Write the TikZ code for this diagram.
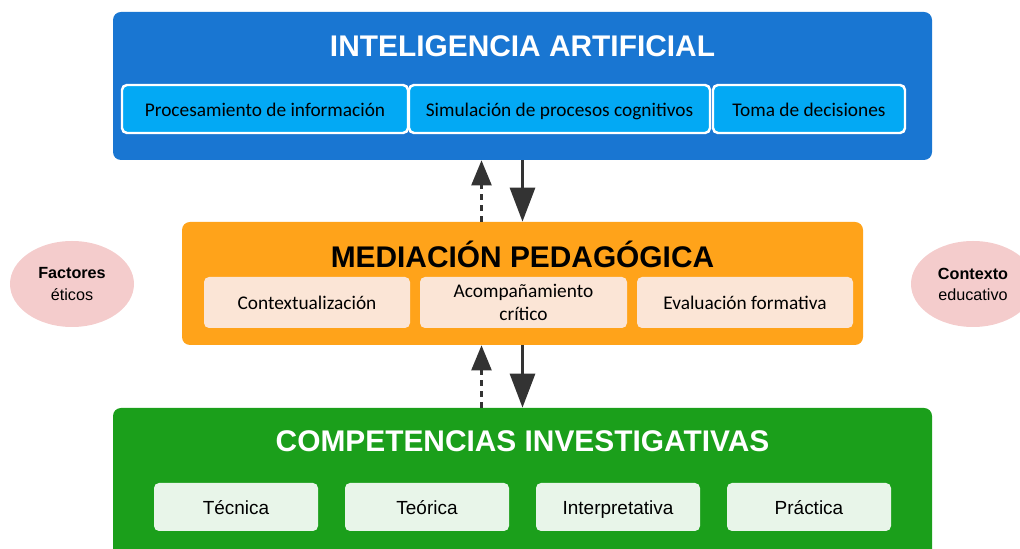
\documentclass[tikz,border=0pt]{standalone}
\usepackage{fontspec}
\setmainfont{Carlito}
\newfontfamily\arialfont{Liberation Sans}
\usetikzlibrary{arrows.meta,shapes.geometric,positioning}
\definecolor{iablue}{HTML}{1976D2}
\definecolor{iacyan}{HTML}{03A9F4}
\definecolor{medorange}{HTML}{FFA31A}
\definecolor{medpeach}{HTML}{FBE5D6}
\definecolor{compgreen}{HTML}{1B9F1B}
\definecolor{complight}{HTML}{E8F5E9}
\definecolor{factpink}{HTML}{F4CCCC}
\definecolor{arrowgrey}{HTML}{333333}
\tikzset{
    bigbox/.style={rounded corners=0.16cm, inner sep=0pt, minimum width=16.38cm},
    boxtitle/.style={font=\arialfont\bfseries\fontsize{17}{20}\selectfont},
    oneline/.style={text height=2.2ex, text depth=0.45ex},
    iabox/.style={oneline, fill=iacyan, draw=white, line width=1.4pt, rounded corners=0.1cm,
        minimum height=0.96cm, inner sep=0pt, font=\fontsize{11}{13}\selectfont},
    medbox/.style={fill=medpeach, rounded corners=0.1cm, minimum height=1.02cm,
        inner sep=0pt, align=center, font=\fontsize{11}{13.5}\selectfont},
    compbox/.style={oneline, fill=complight, rounded corners=0.1cm, minimum width=3.28cm,
        minimum height=0.96cm, inner sep=0pt, font=\arialfont\fontsize{10.8}{13}\selectfont},
    factor/.style={ellipse, fill=factpink, minimum width=2.48cm, minimum height=1.72cm,
        inner sep=0pt, align=center, font=\arialfont\fontsize{9.2}{12}\selectfont},
    flecha/.style={draw=arrowgrey, line width=1.7pt,
        -{Triangle[length=0.68cm,width=0.5cm]}},
    retro/.style={draw=arrowgrey, line width=1.4pt, dash pattern=on 0.12cm off 0.1cm,
        -{Triangle[length=0.5cm,width=0.4cm]}}
}
\begin{document}
\begin{tikzpicture}

\useasboundingbox (0,0) rectangle (20.4,-10.98);
\clip (0,0) rectangle (20.4,-10.98);

%%% CAPA SUPERIOR %%%
\node[bigbox, fill=iablue, minimum height=2.96cm] (ia) at (10.45,-1.72) {};
\node[boxtitle, text=white] (iatit) at (10.45,-0.92) {INTELIGENCIA ARTIFICIAL};
\node[iabox, minimum width=5.72cm] (proc) at (5.30,-2.18) {Procesamiento de información};
\node[iabox, minimum width=6.02cm] (simu) at (11.19,-2.18) {Simulación de procesos cognitivos};
\node[iabox, minimum width=3.84cm] (toma) at (16.18,-2.18) {Toma de decisiones};

%%% CAPA MEDIA %%%
\node[bigbox, fill=medorange, minimum width=13.62cm, minimum height=2.46cm] (med) at (10.45,-5.67) {};
\node[boxtitle, text=black] (medtit) at (10.45,-5.08) {MEDIACIÓN PEDAGÓGICA};
\node[medbox, oneline, minimum width=4.12cm] (cont) at (6.14,-6.05) {Contextualización};
\node[medbox, minimum width=4.14cm] (acom) at (10.47,-6.05) {Acompañamiento\\crítico};
\node[medbox, oneline, minimum width=4.32cm] (eval) at (14.90,-6.05) {Evaluación formativa};

%%% FACTORES LATERALES %%%
\node[factor] (etic) at (1.44,-5.68) {\textbf{Factores}\\éticos};
\node[factor] (ctx) at (19.46,-5.68) {\textbf{Contexto}\\educativo};

%%% CAPA INFERIOR %%%
\node[bigbox, fill=compgreen, minimum height=3.22cm] (comp) at (10.45,-9.77) {};
\node[boxtitle, text=white] (comptit) at (10.45,-8.82) {COMPETENCIAS INVESTIGATIVAS};
\node[compbox] (tecn) at (4.72,-10.14) {Técnica};
\node[compbox] (teor) at (8.54,-10.14) {Teórica};
\node[compbox] (inter) at (12.36,-10.14) {Interpretativa};
\node[compbox] (prac) at (16.18,-10.14) {Práctica};

%%% FLECHAS %%%
\draw[flecha] (ia.south) -- (med.north);
\draw[retro] ([xshift=-0.82cm]med.north) -- ([xshift=-0.82cm]ia.south);
\draw[flecha] (med.south) -- (comp.north);
\draw[retro] ([xshift=-0.82cm]comp.north) -- ([xshift=-0.82cm]med.south);

\end{tikzpicture}
\end{document}
